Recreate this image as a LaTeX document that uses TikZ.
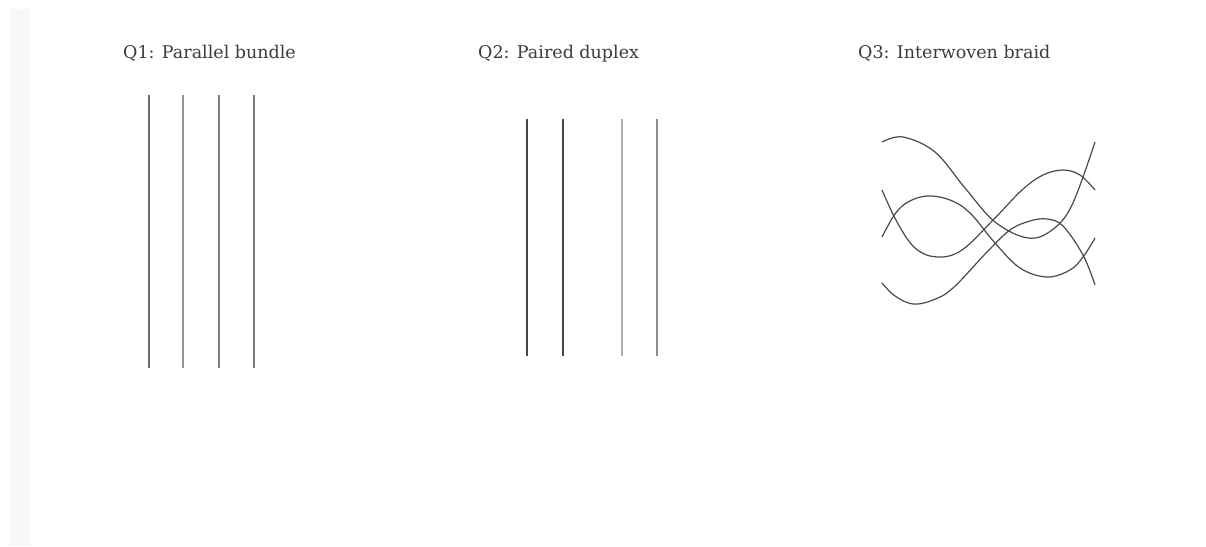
\documentclass[tikz,border=0pt]{standalone}
\usepackage{fontspec}
\setmainfont{DejaVu Serif}
\definecolor{titlec}{HTML}{3C3C3C}
\definecolor{stripc}{HTML}{F8F8F8}
\definecolor{braidc}{HTML}{4A4A4A}
\begin{document}
\begin{tikzpicture}[x=1pt,y=-1pt,
  title/.style={anchor=base west,inner sep=0pt,text=titlec,font=\fontsize{17.5}{20}\selectfont},
  strand/.style={line width=1.4pt},
  braid/.style={draw=braidc,line width=1.2pt,smooth,tension=0.6}]
\useasboundingbox (0,0) rectangle (1206,546);
\fill[white] (0,0) rectangle (1206,546);
\fill[stripc] (10,9) rectangle (30,546);
% titles
\node[title] (t1) at (123,58) {Q1: Parallel bundle};
\node[title] (t2) at (478,58) {Q2: Paired duplex};
\node[title] (t3) at (858,58) {Q3: Interwoven braid};
% Q1
\draw[strand,color=black!58] (149,95) -- (149,368);
\draw[strand,color=black!42] (183,95) -- (183,368);
\draw[strand,color=black!50] (219,95) -- (219,368);
\draw[strand,color=black!52] (254,95) -- (254,368);
% Q2
\draw[strand,color=black!72] (527,119) -- (527,356);
\draw[strand,color=black!72] (563,119) -- (563,356);
\draw[strand,color=black!32] (622,119) -- (622,356);
\draw[strand,color=black!45] (657,119) -- (657,356);
% Q3 braid
\draw[braid] plot coordinates {(882,142) (903,137) (935,152) (965,188) (995,222) (1028,238) (1052,230) (1072,205) (1095,142)};
\draw[braid] plot coordinates {(882,190) (897,222) (915,248) (937,257) (962,250) (995,218) (1022,190) (1043,175) (1063,170) (1080,175) (1095,190)};
\draw[braid] plot coordinates {(882,237) (895,214) (908,202) (927,196) (950,200) (970,213) (995,243) (1020,268) (1047,277) (1070,270) (1083,257) (1095,238)};
\draw[braid] plot coordinates {(882,283) (895,296) (913,304) (933,300) (953,288) (987,252) (1010,230) (1030,221) (1047,219) (1063,226) (1083,255) (1095,285)};
\end{tikzpicture}
\end{document}
